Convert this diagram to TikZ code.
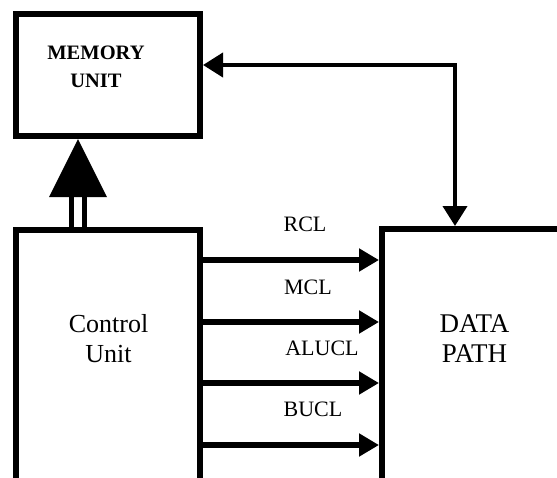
\documentclass[tikz,border=0pt]{standalone}
\usepackage{fontspec}
\setmainfont{Liberation Serif}
\usetikzlibrary{arrows.meta}

\tikzset{
    unit/.style={draw, line width=6pt, inner sep=0pt},
    caption/.style={font=\fontsize{22}{26}\selectfont, align=center, inner sep=0pt},
    ctrl/.style={line width=6pt, -{Triangle[length=20pt,width=22pt]}},
}

\begin{document}
\begin{tikzpicture}[x=1pt, y=-1pt]
        \useasboundingbox (0,0) rectangle (557,477);
        \clip (0,0) rectangle (557,477);

        % the three blocks
        \node[unit, minimum width=184pt, minimum height=122pt] (memory) at (108,75) {};
        \node[unit, minimum width=184pt, minimum height=290pt] (control) at (108,375) {};
        \node[unit, minimum width=220pt, minimum height=290pt] (datapath) at (492,374) {};

        \node[caption, font=\fontsize{20.5}{28}\selectfont\bfseries] (memtext) at (96,67) {MEMORY\\UNIT};
        \node[caption, font=\fontsize{26}{30}\selectfont] (ctrltext) at (108.5,339) {Control\\Unit};
        \node[caption, font=\fontsize{27}{30}\selectfont] (dptext) at (474.5,339) {DATA\\PATH};

        % memory <-> data path
        \draw[line width=4pt, {Triangle[length=20pt,width=24pt]}-{Triangle[length=20pt,width=24pt]}]
            (memory.east |- 0,65) -| (datapath.north -| 455,0);

        % bus up to memory
        \draw[line width=5pt, double, double distance=8pt] (control.north -| 77.5,0) -- (77.5,197);
        \fill (78,139) -- (107,197) -- (49,197) -- cycle;

        % control lines
        \draw[ctrl] (control.east |- 0,260) -- (datapath.west |- 0,260);
        \draw[ctrl] (control.east |- 0,322) -- (datapath.west |- 0,322);
        \draw[ctrl] (control.east |- 0,383) -- (datapath.west |- 0,383);
        \draw[ctrl] (control.east |- 0,445) -- (datapath.west |- 0,445);

        \node[caption] (rcl) at (305,224) {RCL};
        \node[caption] (mcl) at (308,287) {MCL};
        \node[caption] (alucl) at (322,348) {ALUCL};
        \node[caption] (bucl) at (313,409) {BUCL};
\end{tikzpicture}
\end{document}
